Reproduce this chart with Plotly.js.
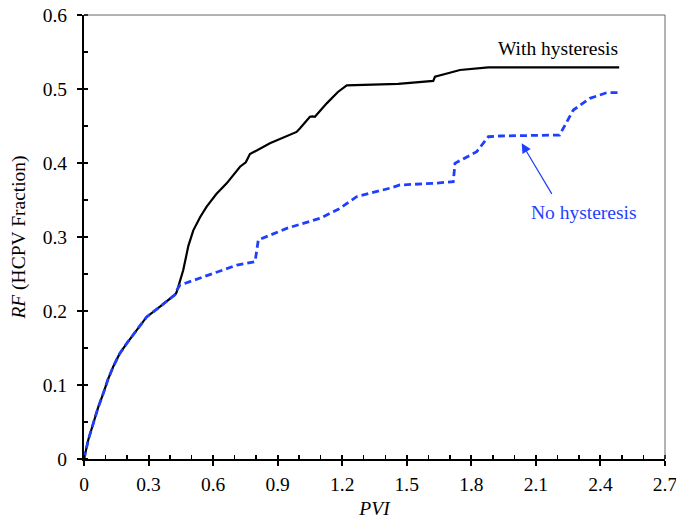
<!DOCTYPE html>
<html>
<head>
<meta charset="utf-8">
<script src="https://cdn.plot.ly/plotly-3.0.1.min.js"></script>
<style>html,body{margin:0;padding:0;background:#fff;}#chart{width:676px;height:519px;}</style>
</head>
<body>
<div id="chart"></div>
<script>
// Shared early portion (both curves identical)
const commonPVI = [0, 0.02, 0.043, 0.065, 0.09, 0.112, 0.136, 0.165, 0.198, 0.25, 0.291, 0.34, 0.384, 0.423];
const commonRF  = [0, 0.026, 0.048, 0.069, 0.089, 0.108, 0.125, 0.142, 0.156, 0.176, 0.192, 0.203, 0.2126, 0.222];

// With hysteresis (after split)
const hystPVI = [0.428, 0.431, 0.461, 0.485, 0.508, 0.54, 0.570, 0.615, 0.663, 0.725, 0.752, 0.763, 0.771, 0.864, 0.988, 1.004, 1.05, 1.062, 1.073, 1.128, 1.18, 1.221, 1.46, 1.623, 1.631, 1.70, 1.747, 1.879, 2.487];
const hystRF  = [0.224, 0.226, 0.255, 0.288, 0.309, 0.327, 0.341, 0.358, 0.3725, 0.395, 0.401, 0.4085, 0.412, 0.4266, 0.442, 0.447, 0.4625, 0.463, 0.4625, 0.4806, 0.496, 0.505, 0.5068, 0.511, 0.5166, 0.522, 0.5257, 0.5293, 0.5293];

// No hysteresis (after split)
const noHystPVI = [0.428, 0.431, 0.446, 0.554, 0.710, 0.795, 0.81, 0.942, 1.097, 1.182, 1.267, 1.422, 1.468, 1.623, 1.716, 1.724, 1.825, 1.879, 1.933, 2.197, 2.21, 2.274, 2.351, 2.429, 2.487];
const noHystRF  = [0.224, 0.228, 0.235, 0.2464, 0.262, 0.2667, 0.296, 0.3117, 0.3253, 0.3374, 0.3545, 0.366, 0.3703, 0.3725, 0.3747, 0.3996, 0.4153, 0.4355, 0.4365, 0.4378, 0.4378, 0.4716, 0.4874, 0.495, 0.495];

const xTicks = [0, 0.3, 0.6, 0.9, 1.2, 1.5, 1.8, 2.1, 2.4, 2.7];
const xTickText = ["0", "0.3", "0.6", "0.9", "1.2", "1.5", "1.8", "2.1", "2.4", "2.7"];
const yTicks = [0, 0.1, 0.2, 0.3, 0.4, 0.5, 0.6];
const yTickText = ["0", "0.1", "0.2", "0.3", "0.4", "0.5", "0.6"];

const blue = '#1f3fff';
const font = 'Liberation Serif';
const fs = 19.5;

const traces = [
  {x: commonPVI.concat(hystPVI), y: commonRF.concat(hystRF), type: 'scatter', mode: 'lines',
   line: {color: '#000', width: 2.2}, name: 'With hysteresis', showlegend: false},
  {x: commonPVI.concat(noHystPVI), y: commonRF.concat(noHystRF), type: 'scatter', mode: 'lines',
   line: {color: blue, width: 2.8, dash: '7px,4px'}, name: 'No hysteresis', showlegend: false},
  // invisible trace to host inside-major-tick overlay axes
  {x: [0], y: [0], xaxis: 'x2', yaxis: 'y2', mode: 'markers', marker: {opacity: 0}, hoverinfo: 'skip', showlegend: false}
];

const layout = {
  width: 676, height: 519,
  margin: {l: 84, r: 11, t: 15, b: 60},
  paper_bgcolor: '#fff', plot_bgcolor: '#fff',
  font: {family: font, size: fs, color: '#000'},
  showlegend: false,
  xaxis: {
    range: [0, 2.7], tickvals: xTicks, ticktext: xTickText,
    showgrid: false, zeroline: false, showline: true, linecolor: '#000', linewidth: 2,
    ticks: 'outside', ticklen: 5, tickwidth: 2, tickcolor: '#000',
    ticklabeloverflow: 'allow', ticklabelstandoff: 2,
    minor: {ticks: 'inside', dtick: 0.1, ticklen: 4, tickwidth: 1.5, tickcolor: '#000'},
    title: {text: '<i>PVI</i>', font: {family: font, size: fs}, standoff: 10},
    tickfont: {family: font, size: fs}
  },
  yaxis: {
    range: [0, 0.6], tickvals: yTicks, ticktext: yTickText,
    showgrid: false, zeroline: false, showline: true, linecolor: '#000', linewidth: 2,
    ticks: 'outside', ticklen: 5, tickwidth: 2, tickcolor: '#000',
    ticklabeloverflow: 'allow', ticklabelstandoff: 6,
    minor: {ticks: 'inside', dtick: 0.05, ticklen: 4, tickwidth: 1.5, tickcolor: '#000'},
    title: {text: '<i>RF</i> (HCPV Fraction)', font: {family: font, size: fs}, standoff: 12},
    tickfont: {family: font, size: fs}
  },
  xaxis2: {overlaying: 'x', matches: 'x', range: [0, 2.7], tickvals: xTicks, showticklabels: false,
    ticks: 'inside', ticklen: 4, tickwidth: 2, tickcolor: '#000', showgrid: false, zeroline: false, showline: false},
  yaxis2: {overlaying: 'y', matches: 'y', range: [0, 0.6], tickvals: yTicks, showticklabels: false,
    ticks: 'inside', ticklen: 4, tickwidth: 2, tickcolor: '#000', showgrid: false, zeroline: false, showline: false},
  shapes: [
    {type: 'line', xref: 'paper', yref: 'paper', x0: 0, x1: 1, y0: 1, y1: 1, line: {color: '#666', width: 1}},
    {type: 'line', xref: 'paper', yref: 'paper', x0: 1, x1: 1, y0: 0, y1: 1, line: {color: '#666', width: 1}}
  ],
  annotations: [
    {x: 2.205, y: 0.555, xref: 'x', yref: 'y', text: 'With hysteresis', showarrow: false,
     font: {family: font, size: fs, color: '#000'}},
    {x: 2.323, y: 0.333, xref: 'x', yref: 'y', text: 'No hysteresis', showarrow: false,
     font: {family: font, size: fs, color: blue}},
    {x: 2.034, y: 0.4266, xref: 'x', yref: 'y', text: '', showarrow: true,
     ax: 31, ay: 52, arrowhead: 2, arrowsize: 1.6, arrowwidth: 1.2, arrowcolor: blue}
  ]
};

Plotly.newPlot('chart', traces, layout, {staticPlot: true, displayModeBar: false});
</script>
</body>
</html>
